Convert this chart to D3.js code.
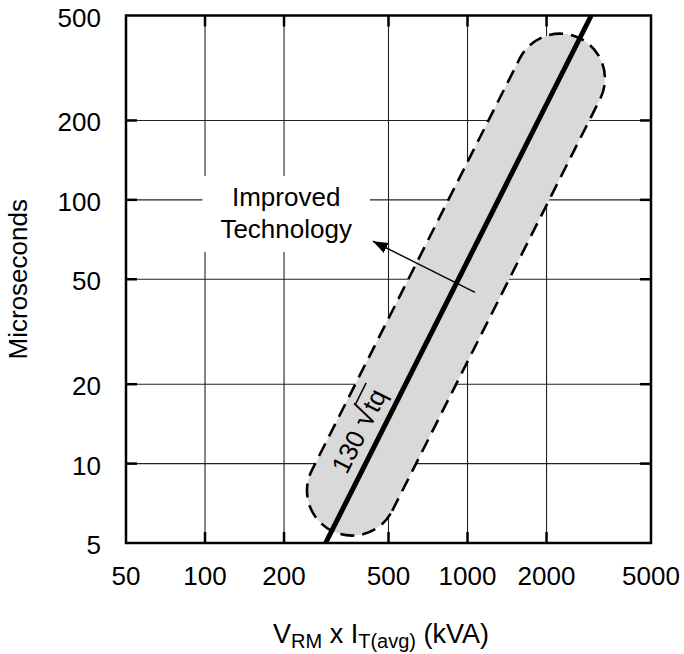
<!DOCTYPE html>
<html>
<head>
<meta charset="utf-8">
<script src="https://cdn.jsdelivr.net/npm/d3@7"></script>
<style>
  html, body { margin: 0; padding: 0; background: #fff; }
  svg { display: block; font-family: "Liberation Sans", Arial, Helvetica, sans-serif; }
</style>
</head>
<body>
<svg id="chart" width="684" height="654"></svg>
<script>
// ---- data ----
const xTicks = [50, 100, 200, 500, 1000, 2000, 5000];
const yTicks = [5, 10, 20, 50, 100, 200, 500];
const xGrid = [100, 200, 500, 1000, 2000];
const yGrid = [10, 20, 50, 100, 200];
// main relation VRM x IT(avg) = 130 sqrt(tq)
const mainLine = [{ kva: 288, us: 5 }, { kva: 2960, us: 500 }];
// centreline of the shaded (dashed-outline) band
const bandLine = [{ kva: 363, us: 7.9 }, { kva: 2250, us: 288 }];
// "Improved Technology" arrow (from -> to)
const arrowLine = [{ kva: 1068, us: 44.6 }, { kva: 436, us: 69.7 }];
const noteLines = ["Improved", "Technology"];
const notePoint = { kva: 202, us: 100 };
const formulaPoint = { kva: 455, us: 12.25 };
const formulaCoef = "130";
const formulaVar = "tq";

// ---- layout ----
const svg = d3.select("#chart");
const L = 126, R = 651, T = 15.5, B = 543;
const x = d3.scaleLog().domain([50, 5000]).range([L, R]);
const y = d3.scaleLog().domain([5, 500]).range([B, T]);
const FS = 26;

// gridlines
const grid = svg.append("g").attr("stroke", "#222").attr("stroke-width", 1.1);
grid.selectAll(".gx").data(xGrid).join("line")
  .attr("x1", d => x(d)).attr("x2", d => x(d)).attr("y1", T).attr("y2", B);
grid.selectAll(".gy").data(yGrid).join("line")
  .attr("y1", d => y(d)).attr("y2", d => y(d)).attr("x1", L).attr("x2", R);

// inward major ticks (all four sides)
const tk = svg.append("g").attr("stroke", "#000").attr("stroke-width", 2.5);
const TL = 11;
xGrid.forEach(d => {
  tk.append("line").attr("x1", x(d)).attr("x2", x(d)).attr("y1", T).attr("y2", T + TL);
  tk.append("line").attr("x1", x(d)).attr("x2", x(d)).attr("y1", B).attr("y2", B - TL);
});
yGrid.forEach(d => {
  tk.append("line").attr("y1", y(d)).attr("y2", y(d)).attr("x1", L).attr("x2", L + TL);
  tk.append("line").attr("y1", y(d)).attr("y2", y(d)).attr("x1", R).attr("x2", R - TL);
});

// note box + text
const noteG = svg.append("g");
const noteRect = noteG.append("rect").attr("fill", "#fff");
const noteText = noteG.append("text")
  .attr("text-anchor", "middle").attr("font-size", FS).attr("fill", "#000");
noteLines.forEach((t, i) => {
  noteText.append("tspan").attr("x", x(notePoint.kva) + 1).attr("y", y(notePoint.us) + 6 + i * 32).text(t);
});
const nb = noteText.node().getBBox();
noteRect.attr("x", nb.x - 18).attr("y", nb.y - 6).attr("width", nb.width + 36).attr("height", nb.height + 14);

// band (stadium shape in screen space)
const p1 = [x(bandLine[0].kva), y(bandLine[0].us)];
const p2 = [x(bandLine[1].kva), y(bandLine[1].us)];
const r = 45;
const len = Math.hypot(p2[0] - p1[0], p2[1] - p1[1]);
const u = [(p2[0] - p1[0]) / len, (p2[1] - p1[1]) / len];
const n = [-u[1], u[0]];
const bp = d3.path();
bp.moveTo(p1[0] + n[0] * r, p1[1] + n[1] * r);
bp.lineTo(p2[0] + n[0] * r, p2[1] + n[1] * r);
const angN = Math.atan2(n[1], n[0]);
bp.arc(p2[0], p2[1], r, angN, angN + Math.PI, true);
bp.lineTo(p1[0] - n[0] * r, p1[1] - n[1] * r);
bp.arc(p1[0], p1[1], r, angN + Math.PI, angN + 2 * Math.PI, true);
bp.closePath();
svg.append("path").attr("d", bp.toString())
  .attr("fill", "#d9d9d9").attr("stroke", "#000").attr("stroke-width", 2.6)
  .attr("stroke-dasharray", "14,8");

// main line
svg.append("path").datum(mainLine)
  .attr("d", d3.line().x(d => x(d.kva)).y(d => y(d.us)))
  .attr("stroke", "#000").attr("stroke-width", 5).attr("fill", "none");

// arrow
svg.append("defs").append("marker")
  .attr("id", "ah").attr("viewBox", "0 0 10 10").attr("refX", 10).attr("refY", 5)
  .attr("markerWidth", 15).attr("markerHeight", 15).attr("markerUnits", "userSpaceOnUse")
  .attr("orient", "auto")
  .append("path").attr("d", "M0,1.3 L10,5 L0,8.7 Z").attr("fill", "#000");
svg.append("line")
  .attr("x1", x(arrowLine[0].kva)).attr("y1", y(arrowLine[0].us))
  .attr("x2", x(arrowLine[1].kva)).attr("y2", y(arrowLine[1].us))
  .attr("stroke", "#000").attr("stroke-width", 1.4).attr("marker-end", "url(#ah)");

// rotated formula label 130 sqrt(tq)
const ml0 = [x(mainLine[0].kva), y(mainLine[0].us)], ml1 = [x(mainLine[1].kva), y(mainLine[1].us)];
const ang = Math.atan2(ml1[1] - ml0[1], ml1[0] - ml0[0]) * 180 / Math.PI;
const fg = svg.append("g")
  .attr("transform", `translate(${x(formulaPoint.kva)},${y(formulaPoint.us)}) rotate(${ang})`);
const ft = fg.append("text").attr("font-size", FS).attr("y", -12).attr("fill", "#000");
ft.append("tspan").text(formulaCoef + " ");
ft.append("tspan").attr("font-size", FS * 1.25).text("\u221A");
ft.append("tspan").text(formulaVar);
const full = ft.node().getComputedTextLength();
ft.attr("x", -full / 2);
const nPre = (formulaCoef + " \u221A").length;
const preLen = ft.node().getSubStringLength(0, nPre);
fg.append("line")
  .attr("x1", -full / 2 + preLen - 1.5).attr("x2", -full / 2 + full + 1)
  .attr("y1", -12 - FS * 0.93).attr("y2", -12 - FS * 0.93)
  .attr("stroke", "#000").attr("stroke-width", 1.5);

// plot border
svg.append("rect").attr("x", L).attr("y", T).attr("width", R - L).attr("height", B - T)
  .attr("fill", "none").attr("stroke", "#000").attr("stroke-width", 2.5);

// tick labels
svg.append("g").selectAll("text").data(xTicks).join("text")
  .attr("x", d => x(d)).attr("y", 585).attr("text-anchor", "middle")
  .attr("font-size", FS).text(d => d);
svg.append("g").selectAll("text").data(yTicks).join("text")
  .attr("x", 101).attr("y", d => y(d) + 2).attr("text-anchor", "end")
  .attr("dominant-baseline", "central").attr("font-size", FS).text(d => d);

// axis titles
const xt = svg.append("text").attr("x", 381).attr("y", 643).attr("text-anchor", "middle").attr("font-size", 27);
xt.append("tspan").text("V");
xt.append("tspan").attr("font-size", 20).attr("dy", 5).text("RM");
xt.append("tspan").attr("dy", -5).text(" x I");
xt.append("tspan").attr("font-size", 20).attr("dy", 5).text("T(avg)");
xt.append("tspan").attr("dy", -5).text(" (kVA)");

svg.append("text").attr("transform", `translate(27,${(T + B) / 2}) rotate(-90)`)
  .attr("text-anchor", "middle").attr("font-size", 26).text("Microseconds");
</script>
</body>
</html>
